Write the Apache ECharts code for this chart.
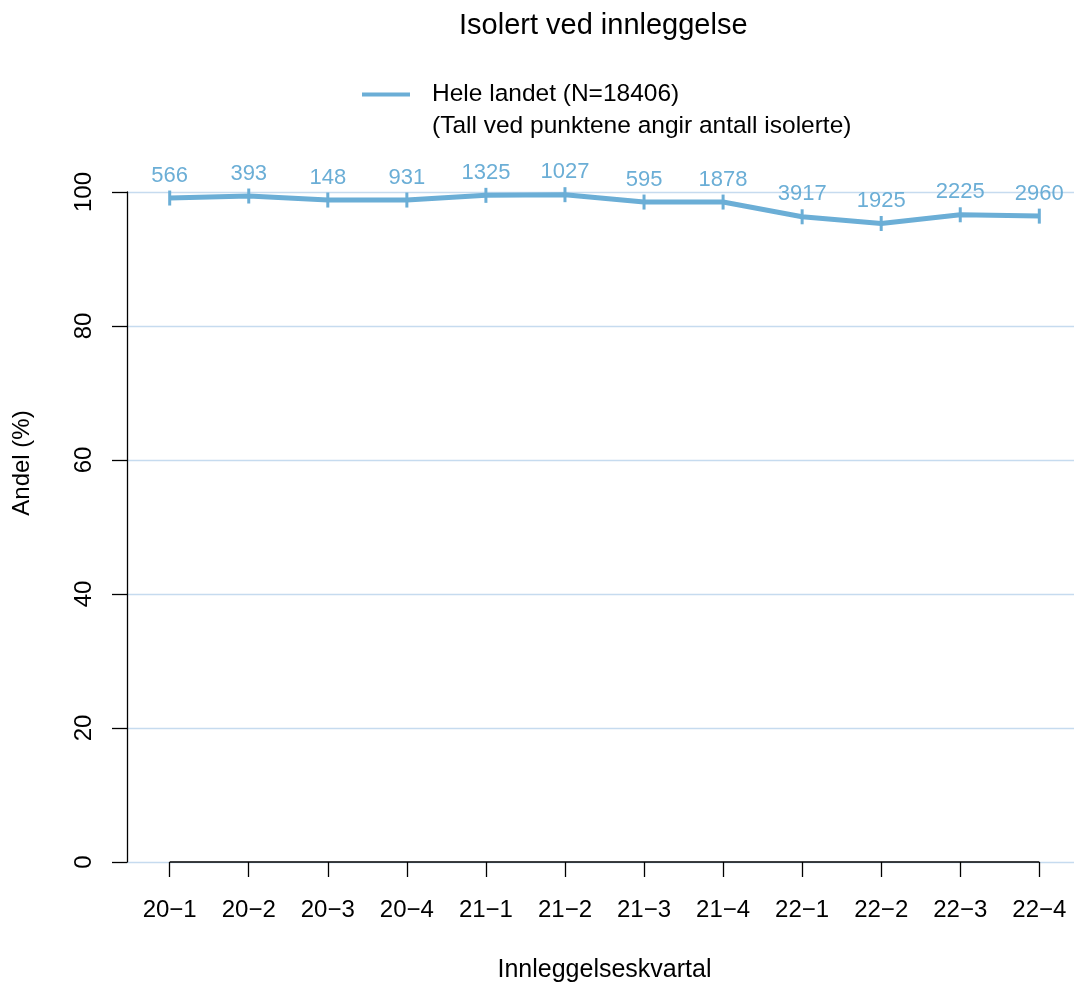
<!DOCTYPE html>
<html>
<head>
<meta charset="utf-8">
<script src="https://cdn.jsdelivr.net/npm/echarts@6/dist/echarts.min.js"></script>
<style>
html,body{margin:0;padding:0;background:#fff;}
#chart{width:1074px;height:982px;}
</style>
</head>
<body>
<div id="chart"></div>
<script>
const categories = ["20\u22121","20\u22122","20\u22123","20\u22124","21\u22121","21\u22122","21\u22123","21\u22124","22\u22121","22\u22122","22\u22123","22\u22124"];
const andel = [99.1, 99.4, 98.8, 98.8, 99.5, 99.6, 98.5, 98.5, 96.3, 95.3, 96.6, 96.4];
const antall = [566, 393, 148, 931, 1325, 1027, 595, 1878, 3917, 1925, 2225, 2960];
const yTicks = [0, 20, 40, 60, 80, 100];
const seriesName = "Hele landet (N=18406)";
const noteText = "(Tall ved punktene angir antall isolerte)";
const titleText = "Isolert ved innleggelse";
const xName = "Innleggelseskvartal";
const yName = "Andel (%)";

const FONT = "'Liberation Sans', Arial, Helvetica, sans-serif";
const LINE = "#6baed6";
const GRID = "#c6dbef";
const idx = categories.map((c, i) => i);

const chart = echarts.init(document.getElementById('chart'), null, {renderer: 'canvas', width: 1074, height: 982});
chart.setOption({
  backgroundColor: '#ffffff',
  animation: false,
  textStyle: {fontFamily: FONT},
  title: [
    {text: titleText, left: 459, top: 11, padding: 0,
     textStyle: {fontFamily: FONT, fontSize: 29, fontWeight: 'normal', color: '#000'}},
    {text: noteText, left: 432, top: 114, padding: 0,
     textStyle: {fontFamily: FONT, fontSize: 24.5, fontWeight: 'normal', color: '#000'}}
  ],
  legend: {
    left: 362, top: 82, padding: 0,
    itemWidth: 48, itemHeight: 4,
    icon: 'rect',
    data: [{name: seriesName, icon: 'rect'}],
    textStyle: {fontFamily: FONT, fontSize: 24.5, color: '#000', padding: [0, 0, 0, 17]}
  },
  graphic: [{
    type: 'text',
    x: 22, y: 463,
    rotation: Math.PI / 2,
    style: {text: yName, fontFamily: FONT, fontSize: 24, fill: '#000',
            align: 'center', verticalAlign: 'middle'}
  }],
  grid: {left: 127, top: 192, height: 670, width: 955, containLabel: false,
         outerBoundsMode: 'none'},
  xAxis: {
    type: 'value',
    min: -0.54, max: 11.54,
    name: xName, nameLocation: 'middle', nameGap: 96,
    nameTextStyle: {fontFamily: FONT, fontSize: 25, color: '#000'},
    axisLine: {show: false, onZero: false},
    axisTick: {show: true, length: 15, inside: false, customValues: idx,
               lineStyle: {color: '#000', width: 1.3}},
    axisLabel: {show: true, customValues: idx, margin: 36,
                fontFamily: FONT, fontSize: 24, color: '#000',
                formatter: v => categories[Math.round(v)]},
    splitLine: {show: false}
  },
  yAxis: {
    type: 'value',
    min: 0, max: 100, interval: 20,
    axisLine: {show: true, onZero: false, lineStyle: {color: '#000', width: 1.3}},
    axisTick: {show: true, length: 15, lineStyle: {color: '#000', width: 1.3}},
    axisLabel: {rotate: 90, margin: 31, fontFamily: FONT, fontSize: 24, color: '#000',
                customValues: yTicks},
    splitLine: {show: true, lineStyle: {color: GRID, width: 1.3}}
  },
  series: [{
    name: seriesName,
    type: 'line',
    data: andel.map((v, i) => [i, v]),
    color: LINE,
    lineStyle: {color: LINE, width: 5},
    symbol: 'rect',
    symbolSize: [3, 15],
    showAllSymbol: true,
    itemStyle: {color: LINE},
    label: {show: true, position: 'top', distance: 4,
            fontFamily: FONT, fontSize: 22, color: LINE,
            formatter: p => String(antall[p.dataIndex])},
    markLine: {
      silent: true, symbol: 'none', label: {show: false},
      lineStyle: {color: '#000', width: 1.5, type: 'solid'},
      data: [[{coord: [0, 0]}, {coord: [categories.length - 1, 0]}]]
    },
    z: 3
  }]
});
</script>
</body>
</html>
